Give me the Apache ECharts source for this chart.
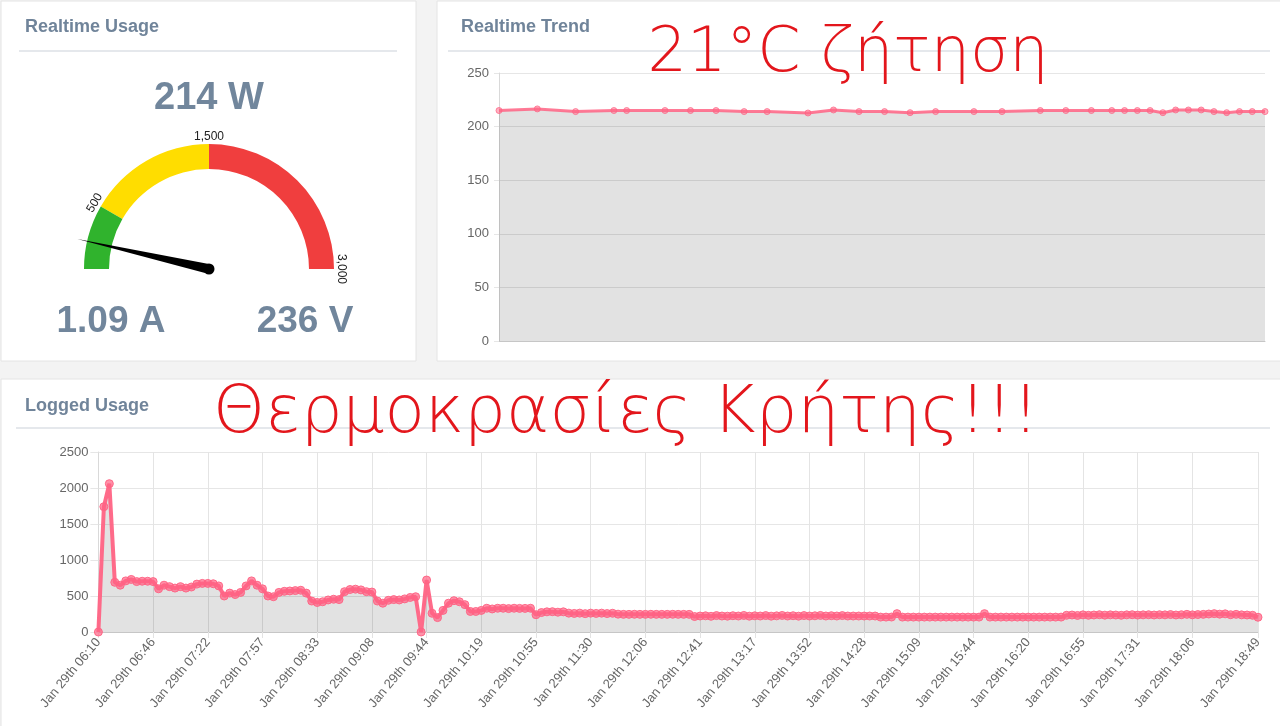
<!DOCTYPE html>
<html><head><meta charset="utf-8">
<script src="https://cdn.jsdelivr.net/npm/echarts@6/dist/echarts.min.js"></script>
<style>html,body{margin:0;padding:0;background:#f3f3f3;}#c{width:1280px;height:726px;}</style>
</head><body><div id="c"></div>
<script>
// ---------- realtime values ----------
const realtimeWatts = 214;
const realtimeAmps = '1.09';
const realtimeVolts = 236;

// ---------- gauge ----------
const gaugeMax = 3000;
const gaugeBands = [500, 1500, 3000];
const gaugeBandColors = ['#30b32d', '#ffdd00', '#f03e3e'];
const gaugeLabelValues = [500, 1500, 3000];

// ---------- realtime trend (seconds, watts) ----------
const trendSeconds = [0,15,30,45,50,65,75,85,96,105,121,131,141,151,161,171,186,197,212,222,232,240,245,250,255,260,265,270,275,280,285,290,295,300];
const trendWatts   = [215,216.5,214,215,215,215,215,215,214,214,212.7,215.5,214,214,213,214,214,214,215,215,215,215,215,215,215,213,215.5,215.5,215.5,214,213,214,214,214];

// ---------- logged usage ----------
const logTickLabels = ['Jan 29th 06:10','Jan 29th 06:46','Jan 29th 07:22','Jan 29th 07:57','Jan 29th 08:33','Jan 29th 09:08','Jan 29th 09:44','Jan 29th 10:19','Jan 29th 10:55','Jan 29th 11:30','Jan 29th 12:06','Jan 29th 12:41','Jan 29th 13:17','Jan 29th 13:52','Jan 29th 14:28','Jan 29th 15:09','Jan 29th 15:44','Jan 29th 16:20','Jan 29th 16:55','Jan 29th 17:31','Jan 29th 18:06','Jan 29th 18:49'];
const logTickIndex = [0,10,20,30,40,50,60,70,80,90,100,110,120,130,140,150,160,170,180,190,200,212];
const logWatts = [
  0,1740,2060,690,650,710,730,700,705,705,
  700,600,650,630,610,630,610,625,665,675,
  675,670,640,500,540,520,550,640,710,650,
  600,500,490,550,565,570,575,580,540,430,
  410,420,445,455,450,560,590,595,585,560,
  555,430,400,440,450,445,460,480,490,0,
  722,260,200,300,400,435,420,380,285,285,
  300,330,320,330,330,325,330,328,328,330,
  240,270,280,282,275,280,262,258,262,255,
  262,258,262,256,260,248,245,245,246,245,
  245,246,245,245,245,246,245,245,245,215,
  222,225,218,228,222,220,226,222,230,220,
  225,222,228,220,224,230,222,226,220,228,
  222,225,230,222,226,222,228,222,222,222,
  222,222,222,207,207,208,255,207,207,207,
  207,207,207,207,207,207,207,207,207,207,
  207,207,255,207,207,207,207,207,207,207,
  207,207,207,207,207,207,207,232,236,230,
  238,232,236,240,234,238,236,232,238,240,
  235,238,240,236,240,238,242,236,240,245,
  238,242,245,250,255,248,252,240,245,238,
  236,232,205
];

// ---------- annotations ----------
const noteTop = '21°C ζήτηση';
const noteBottom = 'Θερμοκρασίες Κρήτης!!!';

const FONT = "'Liberation Sans', Arial, Helvetica, sans-serif";
const titleColor = '#70849a';
const valueColor = '#71869c';
const logCats = logWatts.map((_, i) => String(i));
const tickMap = new Map(logTickIndex.map((idx, k) => [idx, logTickLabels[k]]));
const isTick = (idx) => tickMap.has(idx);

const chart = echarts.init(document.getElementById('c'), null, {renderer: 'canvas'});

function panel(x, y, w, h) {
  return {type: 'rect', z: -10, shape: {x, y, width: w, height: h}, style: {fill: '#ffffff', stroke: '#e4e4e4', lineWidth: 1}, silent: true};
}
function divider(x1, x2, y) {
  return {type: 'line', z: -9, shape: {x1, y1: y, x2, y2: y}, style: {stroke: '#e5e8ec', lineWidth: 2}, silent: true};
}
function txt(text, x, y, font, fill, align, z) {
  return {type: 'text', z: z || 5, x, y, style: {text, font, fill, textAlign: align || 'left', align: align || 'left', textVerticalAlign: 'middle', verticalAlign: 'middle'}, silent: true};
}

const option = {
  backgroundColor: '#f3f3f3',
  animation: false,
  graphic: {elements: [
    panel(1, 1, 415, 360),
    panel(437, 1, 850, 360),
    panel(1, 379, 1290, 360),
    divider(19, 397, 51),
    divider(448, 1270, 51),
    divider(16, 1270, 428),
    txt('Realtime Usage', 25, 27, 'bold 18px ' + FONT, titleColor),
    txt('Realtime Trend', 461, 27, 'bold 18px ' + FONT, titleColor),
    txt('Logged Usage', 25, 406, 'bold 18px ' + FONT, titleColor),
    txt(realtimeWatts + ' W', 209, 99, 'bold 38px ' + FONT, valueColor, 'center'),
    txt(realtimeAmps + ' A', 111, 322, 'bold 37px ' + FONT, valueColor, 'center'),
    txt(realtimeVolts + ' V', 305, 322, 'bold 37px ' + FONT, valueColor, 'center'),
    txt(noteTop, 848, 55, "200 62px 'DejaVu Sans', sans-serif", '#e3161c', 'center', 100),
    txt(noteBottom, 626, 415, "200 66px 'DejaVu Sans', sans-serif", '#e3161c', 'center', 100)
  ]},
  grid: [
    {left: 499, right: 15, top: 73, bottom: 385},
    {left: 98.4, right: 22, top: 452, bottom: 94}
  ],
  xAxis: [
    {gridIndex: 0, type: 'value', min: 0, max: 300,
     axisLabel: {show: false}, axisTick: {show: false}, splitLine: {show: false},
     axisLine: {show: true, lineStyle: {color: '#c6c6c6', width: 1}}},
    {gridIndex: 1, type: 'category', boundaryGap: false, data: logCats,
     axisLine: {show: true, lineStyle: {color: '#c6c6c6', width: 1}},
     axisTick: {show: true, interval: isTick, length: 6, lineStyle: {color: '#e3e3e3'}},
     splitLine: {show: true, interval: isTick, lineStyle: {color: '#e4e4e4'}},
     axisLabel: {interval: isTick, rotate: 50, margin: 8, color: '#666', fontSize: 13, fontFamily: FONT,
                 formatter: (v, idx) => tickMap.get(Number(v)) || ''}}
  ],
  yAxis: [
    {gridIndex: 0, type: 'value', min: 0, max: 250, interval: 50,
     axisLine: {show: true, lineStyle: {color: '#d9d9d9'}},
     axisTick: {show: true, length: 5, lineStyle: {color: '#e6e6e6'}},
     splitLine: {show: true, lineStyle: {color: '#e6e6e6'}},
     axisLabel: {color: '#666', fontSize: 13, margin: 10, fontFamily: FONT, formatter: (v) => String(v)}},
    {gridIndex: 1, type: 'value', min: 0, max: 2500, interval: 500,
     axisLine: {show: true, lineStyle: {color: '#d9d9d9'}},
     axisTick: {show: true, length: 8, lineStyle: {color: '#e6e6e6'}},
     splitLine: {show: true, lineStyle: {color: '#e6e6e6'}},
     axisLabel: {color: '#666', fontSize: 13, margin: 10, fontFamily: FONT, formatter: (v) => String(v)}}
  ],
  series: [
    {
      type: 'gauge', center: [209, 269], radius: 125, startAngle: 180, endAngle: 0,
      min: 0, max: gaugeMax, splitNumber: 6,
      axisLine: {lineStyle: {width: 25, color: gaugeBands.map((b, i) => [b / gaugeMax, gaugeBandColors[i]])}},
      axisTick: {show: false},
      splitLine: {show: false, length: 0, distance: 0},
      axisLabel: {show: true, distance: -7, rotate: 'tangential', color: '#222', fontSize: 12, fontFamily: FONT,
                  formatter: (v) => gaugeLabelValues.includes(Math.round(v)) ? Math.round(v).toLocaleString('en-US') : ''},
      pointer: {show: true, icon: 'path://M0,100 L50,0 L100,100 Z', length: 135, width: 10, itemStyle: {color: '#000'}},
      anchor: {show: true, showAbove: true, size: 11, itemStyle: {color: '#000'}},
      progress: {show: false},
      title: {show: false}, detail: {show: false},
      data: [{value: realtimeWatts}]
    },
    {
      type: 'line', xAxisIndex: 0, yAxisIndex: 0,
      data: trendSeconds.map((t, i) => [t, trendWatts[i]]),
      showAllSymbol: true, symbol: 'circle', symbolSize: 6,
      lineStyle: {color: 'rgba(255,99,132,0.85)', width: 3},
      itemStyle: {color: 'rgba(255,99,132,0.5)', borderColor: 'rgba(255,99,132,0.75)', borderWidth: 1},
      areaStyle: {color: 'rgba(0,0,0,0.115)', opacity: 1}
    },
    {
      type: 'line', xAxisIndex: 1, yAxisIndex: 1,
      data: logWatts,
      showAllSymbol: true, symbol: 'circle', symbolSize: 8,
      lineStyle: {color: 'rgba(255,99,132,0.95)', width: 4},
      itemStyle: {color: 'rgba(255,99,132,0.7)', borderColor: 'rgba(255,99,132,0.95)', borderWidth: 1},
      areaStyle: {color: 'rgba(0,0,0,0.115)', opacity: 1}
    }
  ]
};
chart.setOption(option);
</script>
</body></html>
